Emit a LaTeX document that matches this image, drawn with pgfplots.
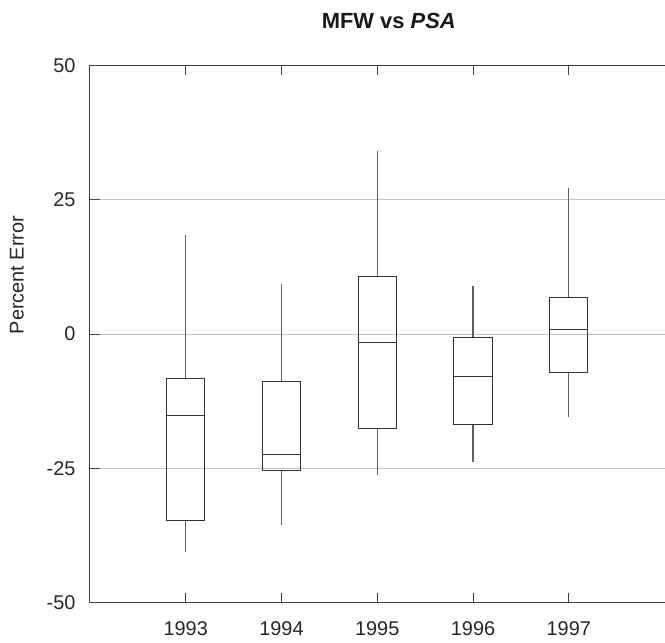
\documentclass[border=0pt]{standalone}
\usepackage{fontspec}
\setmainfont{Liberation Sans}
\usepackage{pgfplots}
\pgfplotsset{compat=1.18}
\usepgfplotslibrary{statistics}
\definecolor{axcol}{HTML}{404040}
\definecolor{gridcol}{HTML}{C4C4C4}
\definecolor{boxcol}{HTML}{333333}
\definecolor{whiskcol}{HTML}{5E5E5E}
\begin{document}
\begin{tikzpicture}
\begin{axis}[
  name=ax,
  scale only axis, width=575bp, height=538bp,
  xmin=0, xmax=6, ymin=-50, ymax=50,
  axis x line*=box, axis y line*=left,
  xtick={1,2,3,4,5}, xticklabels={1993,1994,1995,1996,1997},
  ytick={-50,-25,0,25,50},
  tick align=inside, major tick length=10bp,
  ymajorgrids, grid style={color=gridcol, line width=0.9bp},
  axis line style={color=axcol, line width=0.9bp},
  tick style={color=axcol, line width=0.9bp},
  /pgf/number format/assume math mode=true,
  ticklabel style={font=\fontsize{20}{24}\selectfont, text=black!85},
  xticklabel style={yshift=-15bp},
  yticklabel style={xshift=-11bp},
  ylabel={Percent Error},
  every axis y label/.style={at={(axis description cs:-0.127,0.61)}, rotate=90, anchor=center, font=\fontsize{20}{24}\selectfont, text=black!85},
  title={\textbf{MFW vs \textit{PSA}}},
  title style={font=\fontsize{22}{26}\selectfont, text=black!90, at={(axis description cs:0.52,1)}, anchor=base, yshift=31bp},
  boxplot/draw direction=y,
  boxplot/every whisker/.style={draw=whiskcol, line width=1.1bp},
  boxplot/every box/.style={draw=boxcol, line width=0.9bp},
  boxplot/every median/.style={draw=boxcol, line width=0.9bp},
]
\addplot[boxplot prepared={draw position=1, lower whisker=-40.6, lower quartile=-34.7, median=-15.1, upper quartile=-8.2, upper whisker=18.35, box extend=0.4, whisker extend=0}, solid, mark=none] coordinates {};
\addplot[boxplot prepared={draw position=2, lower whisker=-35.6, lower quartile=-25.3, median=-22.3, upper quartile=-8.8, upper whisker=9.4, box extend=0.4, whisker extend=0}, solid, mark=none] coordinates {};
\addplot[boxplot prepared={draw position=3, lower whisker=-26.3, lower quartile=-17.6, median=-1.5, upper quartile=10.8, upper whisker=34.1, box extend=0.4, whisker extend=0}, solid, mark=none] coordinates {};
\addplot[boxplot prepared={draw position=4, lower whisker=-23.7, lower quartile=-16.8, median=-7.9, upper quartile=-0.6, upper whisker=8.9, box extend=0.4, whisker extend=0}, solid, mark=none] coordinates {};
\addplot[boxplot prepared={draw position=5, lower whisker=-15.4, lower quartile=-7.2, median=0.9, upper quartile=6.8, upper whisker=27.2, box extend=0.4, whisker extend=0}, solid, mark=none] coordinates {};
\end{axis}
\path (ax.south west) ++(-90bp,-39.7bp) rectangle ++(665bp,643bp);
\end{tikzpicture}
\end{document}
